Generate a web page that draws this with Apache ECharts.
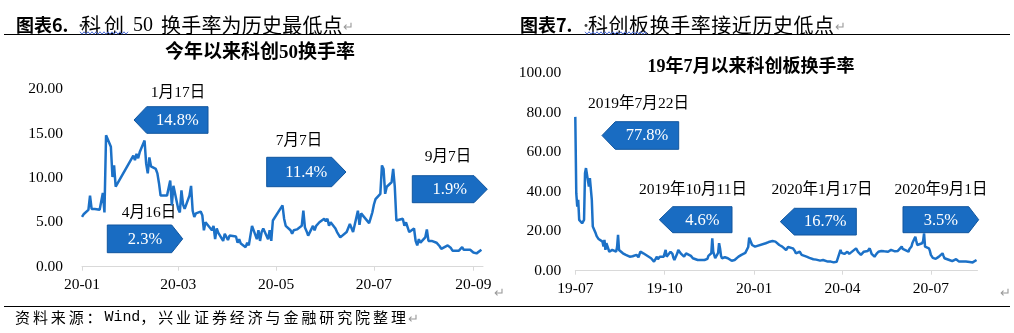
<!DOCTYPE html>
<html>
<head>
<meta charset="utf-8">
<script src="https://cdn.jsdelivr.net/npm/echarts@6/dist/echarts.min.js"></script>
<style>
  html, body { margin: 0; padding: 0; background: #fff; }
  #c { width: 1014px; height: 333px; }
</style>
</head>
<body>
<div id="c"></div>
<script>
// ---- 科创50 daily turnover (%), 2020 ----
const star50Dates = [
  '2020-01-02','2020-01-03','2020-01-06','2020-01-07','2020-01-08','2020-01-09','2020-01-10','2020-01-13','2020-01-14','2020-01-15',
  '2020-01-16','2020-01-17','2020-01-20','2020-01-21','2020-01-22','2020-01-23','2020-02-03','2020-02-04','2020-02-05','2020-02-06',
  '2020-02-07','2020-02-10','2020-02-11','2020-02-12','2020-02-13','2020-02-14','2020-02-17','2020-02-18','2020-02-19','2020-02-20',
  '2020-02-21','2020-02-24','2020-02-25','2020-02-26','2020-02-27','2020-02-28','2020-03-02','2020-03-03','2020-03-04','2020-03-05',
  '2020-03-06','2020-03-09','2020-03-10','2020-03-11','2020-03-12','2020-03-13','2020-03-16','2020-03-17','2020-03-18','2020-03-19',
  '2020-03-20','2020-03-23','2020-03-24','2020-03-25','2020-03-26','2020-03-27','2020-03-30','2020-03-31','2020-04-01','2020-04-02',
  '2020-04-03','2020-04-07','2020-04-08','2020-04-09','2020-04-10','2020-04-13','2020-04-14','2020-04-15','2020-04-16','2020-04-17',
  '2020-04-20','2020-04-21','2020-04-22','2020-04-23','2020-04-24','2020-04-27','2020-04-28','2020-04-29','2020-04-30','2020-05-06',
  '2020-05-07','2020-05-08','2020-05-11','2020-05-12','2020-05-13','2020-05-14','2020-05-15','2020-05-18','2020-05-19','2020-05-20',
  '2020-05-21','2020-05-22','2020-05-25','2020-05-26','2020-05-27','2020-05-28','2020-05-29','2020-06-01','2020-06-02','2020-06-03',
  '2020-06-04','2020-06-05','2020-06-08','2020-06-09','2020-06-10','2020-06-11','2020-06-12','2020-06-15','2020-06-16','2020-06-17',
  '2020-06-18','2020-06-19','2020-06-22','2020-06-23','2020-06-24','2020-06-29','2020-06-30','2020-07-01','2020-07-02','2020-07-03',
  '2020-07-06','2020-07-07','2020-07-08','2020-07-09','2020-07-10','2020-07-13','2020-07-14','2020-07-15','2020-07-16','2020-07-17',
  '2020-07-20','2020-07-21','2020-07-22','2020-07-23','2020-07-24','2020-07-27','2020-07-28','2020-07-29','2020-07-30','2020-07-31',
  '2020-08-03','2020-08-04','2020-08-05','2020-08-06','2020-08-07','2020-08-10','2020-08-11','2020-08-12','2020-08-13','2020-08-14',
  '2020-08-17','2020-08-18','2020-08-19','2020-08-20','2020-08-21','2020-08-24','2020-08-25','2020-08-26','2020-08-27','2020-08-28',
  '2020-08-31','2020-09-01','2020-09-02','2020-09-03','2020-09-04','2020-09-07'
];
const star50Turnover = [
  5.6, 5.9, 6.4, 8.0, 6.5, 6.4, 6.5, 6.4, 6.6, 8.3,
  6.1, 14.8, 13.5, 10.1, 11.4, 9.0, 12.5, 12.0, 12.7, 12.2,
  12.9, 14.2, 11.6, 10.5, 12.3, 11.3, 11.0, 10.5, 9.4, 8.0,
  8.0, 8.0, 8.2, 9.7, 6.9, 9.1, 6.5, 6.1, 8.6, 7.0,
  6.5, 8.0, 9.1, 6.3, 5.6, 6.0, 6.2, 5.8, 4.1, 5.0,
  5.1, 4.1, 4.6, 3.1, 4.3, 3.8, 2.9, 3.7, 3.5, 3.0,
  3.5, 3.4, 2.7, 3.1, 2.6, 2.2, 2.7, 2.4, 2.3, 4.6,
  3.1, 4.1, 2.9, 3.9, 4.3, 3.1, 4.1, 2.9, 5.2, 6.9,
  5.4, 4.6, 4.1, 3.7, 4.1, 4.3, 4.2, 4.6, 6.3, 4.4,
  4.0, 3.5, 4.6, 4.1, 4.6, 4.8, 5.0, 5.4, 5.1, 5.4,
  4.6, 5.0, 4.3, 3.9, 4.1, 3.3, 3.5, 3.9, 4.1, 4.8,
  4.6, 3.9, 6.3, 4.7, 6.0, 4.9, 5.5, 6.1, 7.0, 7.6,
  8.2, 11.4, 11.0, 8.2, 9.0, 9.5, 11.0, 9.0, 5.2, 5.4,
  5.4, 4.6, 5.0, 5.0, 3.9, 4.3, 2.9, 2.4, 3.1, 2.7,
  3.3, 4.2, 2.9, 3.0, 2.9, 2.7, 2.6, 2.3, 2.0, 2.2,
  2.4, 2.5, 2.1, 1.8, 1.8, 1.8, 1.9, 2.2, 1.9, 2.1,
  1.9, 1.8, 1.6, 1.6, 1.5, 1.9
];

// ---- 科创板 daily turnover (%), since July 2019 ----
const boardDates = [
  '2019-07-22','2019-07-23','2019-07-24','2019-07-25','2019-07-26','2019-07-29','2019-07-30','2019-07-31','2019-08-01','2019-08-02',
  '2019-08-05','2019-08-06','2019-08-07','2019-08-08','2019-08-09','2019-08-12','2019-08-13','2019-08-14','2019-08-15','2019-08-16',
  '2019-08-19','2019-08-20','2019-08-21','2019-08-22','2019-08-23','2019-08-26','2019-08-27','2019-08-28','2019-08-29','2019-08-30',
  '2019-09-02','2019-09-03','2019-09-04','2019-09-05','2019-09-06','2019-09-09','2019-09-10','2019-09-11','2019-09-12','2019-09-16',
  '2019-09-17','2019-09-18','2019-09-19','2019-09-20','2019-09-23','2019-09-24','2019-09-25','2019-09-26','2019-09-27','2019-09-30',
  '2019-10-08','2019-10-09','2019-10-10','2019-10-11','2019-10-14','2019-10-15','2019-10-16','2019-10-17','2019-10-18','2019-10-21',
  '2019-10-22','2019-10-23','2019-10-24','2019-10-25','2019-10-28','2019-10-29','2019-10-30','2019-10-31','2019-11-01','2019-11-04',
  '2019-11-05','2019-11-06','2019-11-07','2019-11-08','2019-11-11','2019-11-12','2019-11-13','2019-11-14','2019-11-15','2019-11-18',
  '2019-11-19','2019-11-20','2019-11-21','2019-11-22','2019-11-25','2019-11-26','2019-11-27','2019-11-28','2019-11-29','2019-12-02',
  '2019-12-03','2019-12-04','2019-12-05','2019-12-06','2019-12-09','2019-12-10','2019-12-11','2019-12-12','2019-12-13','2019-12-16',
  '2019-12-17','2019-12-18','2019-12-19','2019-12-20','2019-12-23','2019-12-24','2019-12-25','2019-12-26','2019-12-27','2019-12-30',
  '2019-12-31','2020-01-02','2020-01-03','2020-01-06','2020-01-07','2020-01-08','2020-01-09','2020-01-10','2020-01-13','2020-01-14',
  '2020-01-15','2020-01-16','2020-01-17','2020-01-20','2020-01-21','2020-01-22','2020-01-23','2020-02-03','2020-02-04','2020-02-05',
  '2020-02-06','2020-02-07','2020-02-10','2020-02-11','2020-02-12','2020-02-13','2020-02-14','2020-02-17','2020-02-18','2020-02-19',
  '2020-02-20','2020-02-21','2020-02-24','2020-02-25','2020-02-26','2020-02-27','2020-02-28','2020-03-02','2020-03-03','2020-03-04',
  '2020-03-05','2020-03-06','2020-03-09','2020-03-10','2020-03-11','2020-03-12','2020-03-13','2020-03-16','2020-03-17','2020-03-18',
  '2020-03-19','2020-03-20','2020-03-23','2020-03-24','2020-03-25','2020-03-26','2020-03-27','2020-03-30','2020-03-31','2020-04-01',
  '2020-04-02','2020-04-03','2020-04-07','2020-04-08','2020-04-09','2020-04-10','2020-04-13','2020-04-14','2020-04-15','2020-04-16',
  '2020-04-17','2020-04-20','2020-04-21','2020-04-22','2020-04-23','2020-04-24','2020-04-27','2020-04-28','2020-04-29','2020-04-30',
  '2020-05-06','2020-05-07','2020-05-08','2020-05-11','2020-05-12','2020-05-13','2020-05-14','2020-05-15','2020-05-18','2020-05-19',
  '2020-05-20','2020-05-21','2020-05-22','2020-05-25','2020-05-26','2020-05-27','2020-05-28','2020-05-29','2020-06-01','2020-06-02',
  '2020-06-03','2020-06-04','2020-06-05','2020-06-08','2020-06-09','2020-06-10','2020-06-11','2020-06-12','2020-06-15','2020-06-16',
  '2020-06-17','2020-06-18','2020-06-19','2020-06-22','2020-06-23','2020-06-24','2020-06-29','2020-06-30','2020-07-01','2020-07-02',
  '2020-07-03','2020-07-06','2020-07-07','2020-07-08','2020-07-09','2020-07-10','2020-07-13','2020-07-14','2020-07-15','2020-07-16',
  '2020-07-17','2020-07-20','2020-07-21','2020-07-22','2020-07-23','2020-07-24','2020-07-27','2020-07-28','2020-07-29','2020-07-30',
  '2020-07-31','2020-08-03','2020-08-04','2020-08-05','2020-08-06','2020-08-07','2020-08-10','2020-08-11','2020-08-12','2020-08-13',
  '2020-08-14','2020-08-17','2020-08-18','2020-08-19','2020-08-20','2020-08-21','2020-08-24','2020-08-25','2020-08-26','2020-08-27',
  '2020-08-28','2020-08-31','2020-09-01','2020-09-02','2020-09-03','2020-09-04','2020-09-07'
];
const boardTurnover = [
  77.8, 39.2, 32.4, 35.8, 25.7, 24.0, 24.2, 25.7, 49.3, 51.9,
  42.5, 46.8, 47.6, 35.8, 22.3, 18.9, 17.5, 17.2, 16.0, 15.5,
  14.7, 12.2, 15.6, 10.5, 13.9, 9.6, 10.2, 9.5, 10.5, 10.0,
  9.6, 12.0, 18.1, 10.5, 10.5, 8.8, 9.0, 8.2, 8.0, 7.1,
  7.5, 6.8, 7.3, 6.3, 8.0, 7.0, 6.8, 6.3, 9.6, 8.8,
  6.3, 5.8, 6.5, 4.6, 7.1, 5.8, 6.5, 7.1, 6.8, 7.1,
  7.5, 10.5, 7.1, 8.0, 9.6, 9.0, 8.5, 6.5, 5.4, 8.8,
  10.5, 9.6, 9.6, 8.5, 7.1, 7.5, 8.8, 9.6, 8.8, 7.5,
  6.8, 6.3, 6.3, 6.0, 5.4, 5.8, 5.4, 5.4, 5.2, 5.4,
  6.3, 6.3, 6.0, 7.5, 8.8, 16.4, 9.6, 8.8, 6.3, 9.0,
  13.9, 11.3, 7.5, 6.3, 6.8, 6.3, 5.8, 6.3, 5.5, 5.0,
  4.6, 5.4, 6.0, 7.1, 6.5, 7.1, 8.0, 8.8, 9.0, 8.8,
  9.5, 12.0, 16.7, 13.0, 12.5, 13.0, 12.2, 13.9, 13.5, 14.0,
  14.5, 14.7, 15.0, 15.6, 15.0, 14.7, 15.2, 13.0, 13.5, 13.0,
  12.2, 12.5, 10.5, 11.5, 12.0, 12.2, 11.5, 11.3, 11.5, 10.0,
  8.8, 9.0, 9.6, 9.0, 8.0, 7.8, 7.5, 7.1, 7.0, 6.8,
  6.5, 6.3, 5.8, 6.0, 5.4, 5.6, 5.5, 5.1, 5.3, 5.0,
  5.4, 5.1, 4.6, 5.0, 4.8, 4.6, 4.2, 3.9, 3.7, 4.5,
  5.4, 10.5, 9.0, 9.5, 8.0, 8.5, 9.6, 9.0, 8.5, 8.0,
  11.3, 10.5, 9.5, 8.0, 8.5, 9.0, 9.6, 9.0, 10.0, 10.5,
  11.3, 10.0, 8.5, 7.1, 8.0, 8.5, 9.0, 9.6, 10.0, 10.5,
  10.2, 9.8, 9.6, 9.6, 10.0, 10.2, 10.5, 10.0, 9.8, 10.3,
  9.6, 10.0, 10.5, 12.2, 11.0, 10.5, 9.6, 11.0, 12.0, 12.2,
  14.0, 17.2, 15.0, 13.0, 13.5, 13.0, 13.9, 15.0, 18.9, 12.2,
  12.5, 11.3, 10.0, 8.0, 7.1, 6.5, 6.0, 5.4, 6.0, 7.0,
  8.0, 8.8, 7.5, 6.3, 6.5, 6.0, 5.4, 5.6, 5.0, 4.8,
  5.0, 5.8, 6.3, 5.5, 4.6, 5.0, 4.6, 4.8, 4.5, 4.6,
  4.8, 4.4, 3.5, 4.0, 4.2, 4.3, 5.4
];

// ---- axis ticks (dates where labels sit) ----
const star50TickDates = ['2020-01-02', '2020-03-02', '2020-05-02', '2020-07-02', '2020-09-02'];
const boardTickDates = ['2019-07-22', '2019-10-22', '2020-01-22', '2020-04-22', '2020-07-22'];

// ---- annotations ----
const star50Notes = [
  { date: '1月17日', value: '14.8%' },
  { date: '4月16日', value: '2.3%' },
  { date: '7月7日', value: '11.4%' },
  { date: '9月7日', value: '1.9%' }
];
const boardNotes = [
  { date: '2019年7月22日', value: '77.8%' },
  { date: '2019年10月11日', value: '4.6%' },
  { date: '2020年1月17日', value: '16.7%' },
  { date: '2020年9月1日', value: '3.5%' }
];

// ---- text ----
const heads = {
  left: { tag: '图表6.', body: '科创', num: '50', rest: '换手率为历史最低点' },
  right: { tag: '图表7.', body: '科创板换手率接近历史低点' }
};
const star50Title = '今年以来科创50换手率';
const boardTitle = '19年7月以来科创板换手率';
const sourceNote = '资料来源：Wind，兴业证券经济与金融研究院整理';

// ---------------------------------------------------------------
const SERIF = "'Liberation Serif','Noto Sans CJK SC',serif";
const CJK = "'Noto Sans CJK SC',sans-serif";
const LINE = '#1c71c7';
const BOX_FILL = '#196cc2';
const BOX_EDGE = '#10559e';
const AXIS_GREY = '#d9d9d9';

const ts = s => new Date(s.replace(/-/g, '/')).getTime();
const ymLabel = v => {
  const d = new Date(v);
  return String(d.getFullYear()).slice(2) + '-' + String(d.getMonth() + 1).padStart(2, '0');
};

// date positions run on a numeric (timestamp) axis so tick dates can be set exactly
function xAxisFor(gridIndex, ticks, min, max) {
  const vals = ticks.map(ts);
  return {
    type: 'value', gridIndex, min: ts(min), max: ts(max), scale: true,
    axisLine: { show: true, lineStyle: { color: AXIS_GREY, width: 1 } },
    axisTick: { show: true, customValues: vals, length: 4, lineStyle: { color: AXIS_GREY } },
    axisLabel: {
      customValues: vals, formatter: ymLabel, showMinLabel: true, showMaxLabel: true,
      fontFamily: SERIF, fontSize: 15.5, color: '#000', margin: 10
    },
    splitLine: { show: false }
  };
}
function yAxisFor(gridIndex, max, interval, margin) {
  return {
    type: 'value', gridIndex, min: 0, max, interval,
    axisLine: { show: false }, axisTick: { show: false }, splitLine: { show: false },
    axisLabel: { formatter: v => v.toFixed(2), fontFamily: SERIF, fontSize: 15.5, color: '#000', margin }
  };
}

// characters laid out one by one with a fixed advance (Word-style spacing)
function spacedText(str, x0, y, adv, fontFor, fill) {
  const out = [];
  let x = x0;
  for (const ch of Array.from(str)) {
    const half = /[\x20-\x7e]/.test(ch);
    out.push({ type: 'text', x, y, silent: true,
      style: { text: ch, font: fontFor(half), fill, textVerticalAlign: 'middle' } });
    x += half ? adv / 2 : adv;
  }
  return out;
}
function plainText(text, x, y, font, fill, align) {
  return { type: 'text', x, y, silent: true,
    style: { text, font, fill: fill || '#000', textAlign: align || 'left', textVerticalAlign: 'middle' } };
}
function hLine(x1, x2, y, color, w) {
  return { type: 'line', silent: true, shape: { x1, y1: y, x2, y2: y },
    style: { stroke: color, lineWidth: w || 1 } };
}
function wavy(x0, x1, y) {
  const pts = [];
  let up = true;
  for (let x = x0; x <= x1; x += 2) { pts.push([x, up ? y - 1.2 : y + 1.2]); up = !up; }
  return { type: 'polyline', silent: true, shape: { points: pts },
    style: { stroke: '#4f6fd6', lineWidth: 1, fill: null } };
}
// arrow-shaped callout: body [bx0,bx1]x[by0,by1], tip on the given side
function callout(note, box, dateAt) {
  const { bx0, bx1, by0, by1, tip, dir } = box;
  const my = (by0 + by1) / 2;
  const pts = dir === 'left'
    ? [[tip, my], [bx0, by0], [bx1, by0], [bx1, by1], [bx0, by1]]
    : [[bx0, by0], [bx1, by0], [tip, my], [bx1, by1], [bx0, by1]];
  const cx = dir === 'left' ? (bx0 + bx1) / 2 : (bx0 + tip) / 2;
  return [
    { type: 'polygon', silent: true, shape: { points: pts },
      style: { fill: BOX_FILL, stroke: BOX_EDGE, lineWidth: 1 } },
    plainText(note.value, cx, my + 0.5, '16.5px ' + SERIF, '#fff', 'center'),
    plainText(note.date, dateAt[0], dateAt[1], '15.5px ' + SERIF, '#000', 'center')
  ];
}

const star50Boxes = [
  { box: { bx0: 146.7, bx1: 208, by0: 106.7, by1: 133.3, tip: 134, dir: 'left' }, at: [178, 93] },
  { box: { bx0: 107.3, bx1: 171.7, by0: 225, by1: 252.7, tip: 182.7, dir: 'right' }, at: [149, 213] },
  { box: { bx0: 266.7, bx1: 331.7, by0: 157.3, by1: 186.7, tip: 346, dir: 'right' }, at: [299, 141] },
  { box: { bx0: 412.3, bx1: 474, by0: 175.7, by1: 202.7, tip: 487.3, dir: 'right' }, at: [448, 157] }
];
const boardBoxes = [
  { box: { bx0: 615.3, bx1: 678.7, by0: 121.7, by1: 149.3, tip: 602, dir: 'left' }, at: [638.5, 104] },
  { box: { bx0: 672.7, bx1: 732, by0: 206.7, by1: 232.7, tip: 659.3, dir: 'left' }, at: [693, 190] },
  { box: { bx0: 794.3, bx1: 856.3, by0: 208.3, by1: 235, tip: 780.3, dir: 'left' }, at: [822, 190] },
  { box: { bx0: 903, bx1: 968.7, by0: 206.7, by1: 232.7, tip: 978.7, dir: 'right' }, at: [941, 190] }
];

const graphics = [];
// header and footer rules
graphics.push(hLine(4, 1010, 34.5, '#000', 1));
graphics.push(hLine(4, 1010, 306.5, '#000', 1));

// left header
graphics.push(plainText(heads.left.tag, 16, 25, 'bold 18px ' + CJK, '#000'));
graphics.push(plainText('·', 74, 25, '14px ' + CJK, '#444'));
graphics.push(...spacedText(heads.left.body, 81, 25, 23, () => '20px ' + CJK, '#000'));
graphics.push(plainText(heads.left.num, 133, 26, '20px ' + SERIF, '#000'));
graphics.push(...spacedText(heads.left.rest, 161, 25, 20.2, () => '20px ' + CJK, '#000'));
graphics.push(plainText('↵', 343, 26, '13px ' + CJK, '#9a9a9a'));
graphics.push(wavy(80, 128, 33));

// right header
graphics.push(plainText(heads.right.tag, 520, 25, 'bold 18px ' + CJK, '#000'));
graphics.push(plainText('·', 579, 25, '14px ' + CJK, '#444'));
graphics.push(...spacedText(heads.right.body, 588, 25, 20.55, () => '20px ' + CJK, '#000'));
graphics.push(plainText('↵', 835, 26, '13px ' + CJK, '#9a9a9a'));
graphics.push(wavy(585, 647, 33));

// chart titles
graphics.push(plainText(star50Title, 260, 53, 'bold 19px ' + SERIF, '#000', 'center'));
graphics.push(plainText(boardTitle, 751, 67, 'bold 18px ' + SERIF, '#000', 'center'));

// callouts
star50Notes.forEach((n, i) => graphics.push(...callout(n, star50Boxes[i].box, star50Boxes[i].at)));
boardNotes.forEach((n, i) => graphics.push(...callout(n, boardBoxes[i].box, boardBoxes[i].at)));

// paragraph marks and source line
graphics.push(plainText('↵', 494, 292, '13px ' + CJK, '#9a9a9a'));
graphics.push(plainText('↵', 1000, 292, '13px ' + CJK, '#9a9a9a'));
graphics.push(...spacedText(sourceNote, 15, 317, 17.9,
  half => half ? "15px 'Liberation Mono',monospace" : '15px ' + CJK, '#000'));
graphics.push(plainText('↵', 408, 318, '13px ' + CJK, '#9a9a9a'));

const chart = echarts.init(document.getElementById('c'), null, { renderer: 'canvas' });
chart.setOption({
  animation: false,
  backgroundColor: '#fff',
  grid: [
    { left: 82, right: 531, top: 89, bottom: 66.3 },
    { left: 575.3, right: 36.5, top: 73, bottom: 62.3 }
  ],
  xAxis: [
    xAxisFor(0, star50TickDates, '2020-01-02', '2020-09-08'),
    xAxisFor(1, boardTickDates, '2019-07-22', '2020-09-08')
  ],
  yAxis: [
    yAxisFor(0, 20, 5, 19),
    yAxisFor(1, 100, 20, 14)
  ],
  series: [
    { type: 'line', xAxisIndex: 0, yAxisIndex: 0, showSymbol: false, silent: true,
      lineStyle: { color: LINE, width: 2.5 },
      data: star50Dates.map((d, i) => [ts(d), star50Turnover[i]]) },
    { type: 'line', xAxisIndex: 1, yAxisIndex: 1, showSymbol: false, silent: true,
      lineStyle: { color: LINE, width: 2.5 },
      data: boardDates.map((d, i) => [ts(d), boardTurnover[i]]) }
  ],
  graphic: graphics
});
</script>
</body>
</html>
